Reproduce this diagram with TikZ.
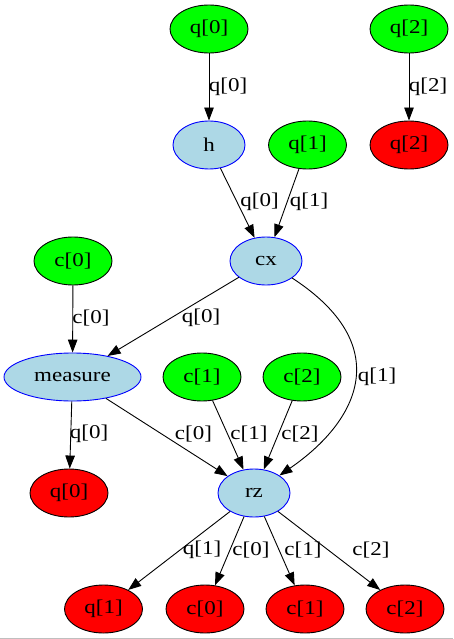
\documentclass[tikz,border=0pt]{standalone}
\usepackage{fontspec}
\setmainfont{Liberation Serif}[FakeStretch=1.18]
\usetikzlibrary{shapes.geometric,arrows.meta}
\tikzset{
  base/.style={ellipse,draw,line width=0.9pt,inner sep=0pt,minimum height=48pt,font=\fontsize{19.5}{22}\selectfont},
  inq/.style={base,fill={rgb,255:red,0;green,255;blue,0},draw=black,minimum width=78pt},
  outq/.style={base,fill={rgb,255:red,255;green,0;blue,0},draw=black,minimum width=78pt},
  gate/.style={base,fill={rgb,255:red,173;green,216;blue,230},draw={rgb,255:red,0;green,0;blue,255},minimum width=72pt},
  e/.style={line width=0.9pt,-{Triangle[length=13pt,width=9.5pt]}},
  lbl/.style={inner sep=0pt,font=\fontsize{19.5}{22}\selectfont}
}
\begin{document}
\begin{tikzpicture}[x=1pt,y=-1pt]
\useasboundingbox (0,0) rectangle (453,639);
\fill[white] (0,0) rectangle (453,639);
\draw[gray!50,line width=1pt] (0,638) -- (453,638);
% nodes
\node[inq] (q0i) at (209,29) {q[0]};
\node[inq] (q2i) at (409,29) {q[2]};
\node[gate] (h) at (209,145) {h};
\node[inq] (q1i) at (307.5,145) {q[1]};
\node[outq] (q2o) at (409,145) {q[2]};
\node[inq] (c0i) at (73,261) {c[0]};
\node[gate] (cx) at (266,261) {cx};
\node[gate,minimum width=137pt] (meas) at (72.5,377) {measure};
\node[inq] (c1i) at (202,377) {c[1]};
\node[inq] (c2i) at (302,377) {c[2]};
\node[outq] (q0o) at (69,493) {q[0]};
\node[gate] (rz) at (254,493) {rz};
\node[outq] (q1o) at (103.5,609) {q[1]};
\node[outq] (c0o) at (205,609) {c[0]};
\node[outq] (c1o) at (305,609) {c[1]};
\node[outq] (c2o) at (405,609) {c[2]};
% edges
\draw[e] (q0i) -- (h) node[lbl] at (228,87) {q[0]};
\draw[e] (q2i) -- (q2o) node[lbl] at (428,87) {q[2]};
\draw[e] (h) -- (cx) node[lbl] at (259.5,202) {q[0]};
\draw[e] (q1i) -- (cx) node[lbl] at (309,202) {q[1]};
\draw[e] (c0i) -- (meas) node[lbl] at (91,318) {c[0]};
\draw[e] (cx) -- (meas) node[lbl] at (201,318) {q[0]};
\draw[e] (cx) .. controls (395,345) and (360,420) .. (rz) node[lbl] at (377,377) {q[1]};
\draw[e] (meas) -- (q0o) node[lbl] at (89,434) {q[0]};
\draw[e] (meas) -- (rz) node[lbl] at (193.5,434) {c[0]};
\draw[e] (c1i) -- (rz) node[lbl] at (249,434) {c[1]};
\draw[e] (c2i) -- (rz) node[lbl] at (300,434) {c[2]};
\draw[e] (rz) -- (q1o) node[lbl] at (202,550) {q[1]};
\draw[e] (rz) -- (c0o) node[lbl] at (251,550) {c[0]};
\draw[e] (rz) -- (c1o) node[lbl] at (303,550) {c[1]};
\draw[e] (rz) -- (c2o) node[lbl] at (371,550) {c[2]};
\end{tikzpicture}
\end{document}
